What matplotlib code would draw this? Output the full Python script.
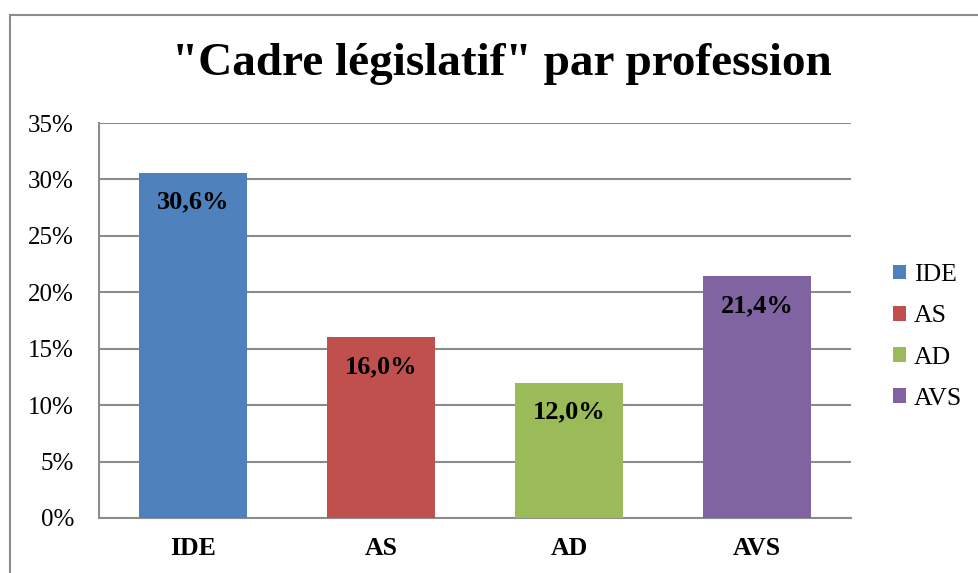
import matplotlib.pyplot as plt
from matplotlib.patches import Rectangle
from matplotlib.ticker import FuncFormatter, MultipleLocator

categories = ['IDE', 'AS', 'AD', 'AVS']
values = [30.6, 16.0, 12.0, 21.4]
labels = ['30,6%', '16,0%', '12,0%', '21,4%']
colors = ['#4F81BD', '#C0504D', '#9BBB59', '#8064A2']

plt.rcParams['font.family'] = ['Liberation Serif', 'DejaVu Serif']

fig = plt.figure(figsize=(9.79, 5.73), dpi=100)
ax = fig.add_axes([99 / 979, 1 - 518 / 573, 752 / 979, 395 / 573])

# outer chart border (cut off at right and bottom like the original)
fig.patches.append(Rectangle((10 / 979, -0.1), 1.2, 1 - 15 / 573 + 0.1,
                             transform=fig.transFigure, fill=False,
                             edgecolor='#8c8c8c', linewidth=1.5))

bars = ax.bar(range(len(categories)), values, width=0.575, color=colors,
              label=categories, zorder=3)

for b, lab in zip(bars, labels):
    ax.annotate(lab, (b.get_x() + b.get_width() / 2, b.get_height()),
                xytext=(0, -21), textcoords='offset points', ha='center',
                va='center', fontsize=19, fontweight='bold')

ax.set_ylim(0, 35)
ax.set_xlim(-0.5, len(categories) - 0.5)
ax.yaxis.set_major_locator(MultipleLocator(5))
ax.yaxis.set_major_formatter(FuncFormatter(lambda v, p: f'{v:.0f}%'))
ax.grid(axis='y', color='#8c8c8c', linewidth=1.5, zorder=0)
ax.set_xticks(range(len(categories)))
ax.set_xticklabels(categories, fontweight='bold')
ax.tick_params(axis='both', length=0, labelsize=18)
ax.tick_params(axis='x', pad=14, labelsize=18.5)
ax.tick_params(axis='y', pad=18)
for s in ['top', 'right']:
    ax.spines[s].set_visible(False)
for s in ['left', 'bottom']:
    ax.spines[s].set_color('#8c8c8c')
    ax.spines[s].set_linewidth(1.5)

fig.text(502 / 979, 1 - 64 / 573, '"Cadre législatif" par profession',
         ha='center', va='center', fontsize=34, fontweight='bold')

fig.legend(handles=bars, labels=categories, loc='center left',
           bbox_to_anchor=(893 / 979, 1 - 337 / 573), frameon=False,
           fontsize=18.5, handlelength=0.5, handleheight=0.5,
           handletextpad=0.3, labelspacing=0.75, borderpad=0,
           borderaxespad=0)

fig.savefig('out.png', dpi=100)
